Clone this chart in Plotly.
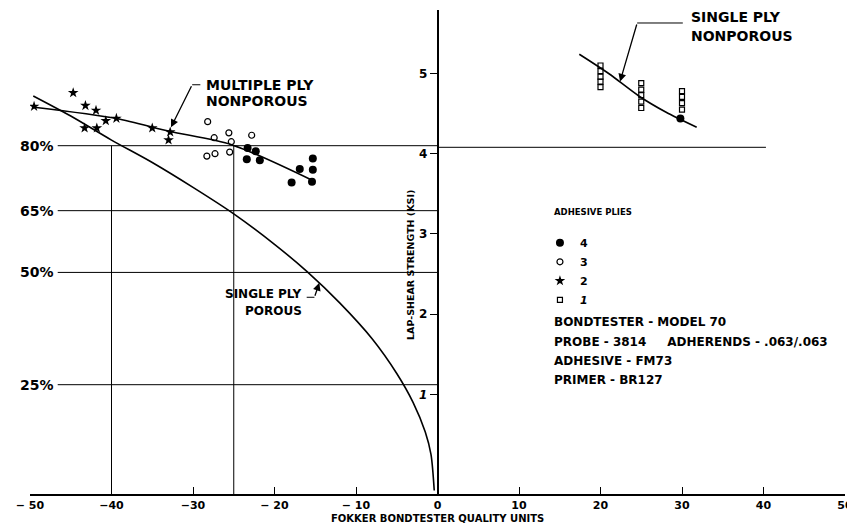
"""Lap-shear strength vs Fokker bondtester quality units."""

import plotly.graph_objects as go

FONT = 'DejaVu Sans'

# adhesive plies data (x = quality units, y = lap-shear strength ksi)
ply4_x = [-23.3, -22.3, -23.4, -21.8, -16.9, -15.3, -15.3, -17.9, -15.4, 29.8]
ply4_y = [4.07, 4.03, 3.93, 3.92, 3.81, 3.94, 3.80, 3.64, 3.65, 4.44]
ply3_x = [-28.2, -27.4, -25.6, -22.8, -25.3, -28.3, -27.3, -25.5]
ply3_y = [4.40, 4.20, 4.26, 4.23, 4.15, 3.97, 4.00, 4.02]
ply2_x = [-49.5, -44.7, -43.2, -41.9, -40.7, -39.4, -43.3, -41.8, -35.0, -32.8, -33.0]
ply2_y = [4.59, 4.76, 4.60, 4.54, 4.41, 4.44, 4.32, 4.32, 4.32, 4.27, 4.17]
ply1_x = [20, 20, 20, 20, 20, 25, 25, 25, 25, 25, 30, 30, 30, 30]
ply1_y = [5.10, 5.03, 4.96, 4.90, 4.83, 4.88, 4.80, 4.73, 4.65, 4.57, 4.78, 4.71, 4.63, 4.55]

# fitted curves
multi_x = [-49.5, -39.4, -32.9, -25.2, -15.2]
multi_y = [4.58, 4.44, 4.28, 4.11, 3.66]
porous_x = [-49.6, -45, -40, -35, -30, -25, -20, -16, -12, -8, -5, -3, -1.5, -0.8, -0.4]
porous_y = [4.72, 4.47, 4.17, 3.89, 3.58, 3.25, 2.87, 2.53, 2.14, 1.69, 1.26, 0.90, 0.53, 0.25, -0.20]
single_x = [17.4, 21.0, 24.7, 28.0, 31.8]
single_y = [5.24, 5.00, 4.72, 4.52, 4.33]

# percent-of-strength reference levels (ksi)
pct_labels = ['80%', '65%', '50%', '25%']
pct_levels = [4.10, 3.29, 2.52, 1.12]
right_level = 4.08
vline_x = [-40, -25]

x_ticks = [-50, -40, -30, -20, -10, 0, 10, 20, 30, 40, 50]
x_ticktext = ['− 50', '−40', '−30', '− 20', '− 10', '0', '10', '20', '30', '40', '50']
y_ticks = [1, 2, 3, 4, 5]
y_ticktext = ['<i>1</i>', '2', '3', '4', '5']

notes = ['BONDTESTER - MODEL 70',
         'PROBE - 3814     ADHERENDS - .063/.063',
         'ADHESIVE - FM73',
         'PRIMER - BR127']
notes_y = [1.90, 1.65, 1.415, 1.18]

Y_BOTTOM = -0.243
Y_TOP = 5.792
LINE = dict(color='black', width=1.6)
THIN = dict(color='black', width=1)

fig = go.Figure()

# reference lines
for lvl in pct_levels:
    fig.add_trace(go.Scatter(x=[-46.6, 0], y=[lvl, lvl], mode='lines',
                             line=THIN, showlegend=False, hoverinfo='skip'))
fig.add_trace(go.Scatter(x=[0, 40.3], y=[right_level, right_level], mode='lines',
                         line=THIN, showlegend=False, hoverinfo='skip'))
for vx in vline_x:
    fig.add_trace(go.Scatter(x=[vx, vx], y=[pct_levels[0], Y_BOTTOM], mode='lines',
                             line=THIN, showlegend=False, hoverinfo='skip'))

# curves
for cx, cy in [(multi_x, multi_y), (porous_x, porous_y), (single_x, single_y)]:
    fig.add_trace(go.Scatter(x=cx, y=cy, mode='lines',
                             line=dict(LINE, shape='spline', smoothing=0.8),
                             showlegend=False, hoverinfo='skip'))

# leader segments
leaders = [([-30.1, -29.1], [4.86, 4.86]),
           ([24.5, 30.1], [5.63, 5.63]),
           ([-16.05, -15.1], [2.21, 2.21])]
for lx, ly in leaders:
    fig.add_trace(go.Scatter(x=lx, y=ly, mode='lines', line=THIN,
                             showlegend=False, hoverinfo='skip'))

# data points
fig.add_trace(go.Scatter(x=ply4_x, y=ply4_y, mode='markers', name='4',
                         marker=dict(symbol='circle', size=8, color='black')))
fig.add_trace(go.Scatter(x=ply3_x, y=ply3_y, mode='markers', name='3',
                         marker=dict(symbol='circle-open', size=6, color='black',
                                     line=dict(width=1.2))))
fig.add_trace(go.Scatter(x=ply2_x, y=ply2_y, mode='markers', name='2',
                         marker=dict(symbol='star', size=8, color='black')))
fig.add_trace(go.Scatter(x=ply1_x, y=ply1_y, mode='markers', name='<i>1</i>',
                         marker=dict(symbol='square-open', size=5, color='black',
                                     line=dict(width=1.2))))

annotations = []
for lbl, lvl in zip(pct_labels, pct_levels):
    annotations.append(dict(x=-46.8, y=lvl, text=lbl, xanchor='right', showarrow=False,
                            font=dict(size=14)))

# arrows
for (tx, ty), (ax, ay) in [((-32.7, 4.33), (-30.1, 4.86)),
                           ((22.4, 4.90), (24.5, 5.63)),
                           ((-14.5, 2.39), (-15.1, 2.21))]:
    annotations.append(dict(x=tx, y=ty, ax=ax, ay=ay, xref='x', yref='y',
                            axref='x', ayref='y', text='', showarrow=True,
                            arrowhead=2, arrowsize=1.2, arrowwidth=1.3, arrowcolor='black'))

callouts = [
    ('MULTIPLE PLY', -28.6, 4.86, 'left', 14),
    ('NONPOROUS', -28.6, 4.66, 'left', 14),
    ('SINGLE PLY', 30.8, 5.70, 'left', 14),
    ('NONPOROUS', 30.8, 5.47, 'left', 14),
    ('SINGLE PLY', -16.4, 2.25, 'right', 12),
    ('POROUS', -16.4, 2.04, 'right', 12),
]
for txt, cx, cy, anchor, size in callouts:
    annotations.append(dict(x=cx, y=cy, text=txt, xanchor=anchor, showarrow=False,
                            font=dict(size=size)))

annotations.append(dict(x=14.0, y=3.27, text='ADHESIVE PLIES', xanchor='left',
                        showarrow=False, font=dict(size=8.5)))
for txt, ny in zip(notes, notes_y):
    annotations.append(dict(x=14.0, y=ny, text=txt, xanchor='left', showarrow=False,
                            font=dict(size=12)))

# axis titles
annotations.append(dict(x=-3.4, y=2.61, text='LAP-SHEAR STRENGTH (KSI)', textangle=-90,
                        showarrow=False, font=dict(size=9.5)))
annotations.append(dict(x=0, y=-0.066, xref='x', yref='paper', yanchor='bottom',
                        text='FOKKER BONDTESTER QUALITY UNITS', showarrow=False,
                        font=dict(size=10)))

# page body adds an 8px offset, so the figure is 8px smaller than the window
fig.update_layout(
    width=847,
    height=515,
    margin=dict(l=22, r=10, t=2, b=29),
    plot_bgcolor='white',
    paper_bgcolor='white',
    font=dict(family=FONT, size=12, color='black', weight='bold'),
    annotations=annotations,
    showlegend=True,
    legend=dict(
        x=0.6257, y=0.549, xanchor='left', yanchor='top',
        bgcolor='rgba(0,0,0,0)', font=dict(size=11), tracegroupgap=0,
    ),
    xaxis=dict(
        range=[-50, 50], tickvals=x_ticks, ticktext=x_ticktext, automargin=False,
        showline=True, linecolor='black', linewidth=1.5,
        ticks='inside', ticklen=7, tickcolor='black', tickwidth=1.2,
        showgrid=False, zeroline=False, tickfont=dict(size=11), ticklabelstandoff=0,
        ticklabeloverflow='allow',
    ),
    yaxis=dict(
        range=[Y_BOTTOM, Y_TOP], tickvals=y_ticks, ticktext=y_ticktext,
        anchor='free', position=0.5, automargin=False,
        showline=True, linecolor='black', linewidth=1.5,
        ticks='outside', ticklen=7, tickcolor='black', tickwidth=1.2,
        showgrid=False, zeroline=False, tickfont=dict(size=12),
    ),
)

fig.write_html('out.html')
